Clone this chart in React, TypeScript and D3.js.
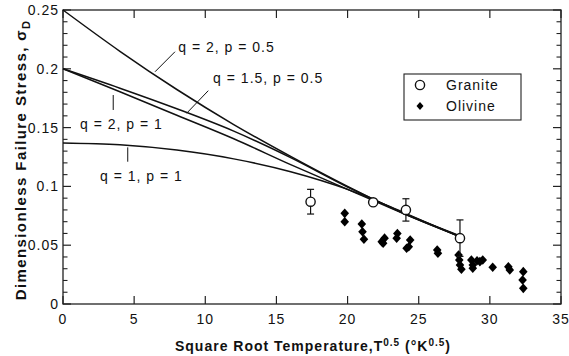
import React from 'react';
import * as d3 from 'd3';

// model curves
const curveX = [0, 4, 8, 12, 16, 20, 24, 28];
const q2p05 = [0.25, 0.2149, 0.1824, 0.1526, 0.1255, 0.1, 0.0767, 0.057];
const q15p05 = [0.2, 0.1835, 0.166, 0.147, 0.1245, 0.0995, 0.077, 0.0575];
const q2p1 = [0.2, 0.1805, 0.1605, 0.1405, 0.1185, 0.0975, 0.0765, 0.0568];
const q1p1 = [0.137, 0.1354, 0.1309, 0.1234, 0.1125, 0.0975, 0.0775, 0.0565];

// granite: open circles with error bars
const graniteX = [17.4, 21.8, 24.1, 27.9];
const graniteY = [0.087, 0.0865, 0.08, 0.056];
const graniteErr = [0.0105, 0, 0.0095, 0.0155];

// olivine: filled diamonds
const olivineX = [19.8, 19.8, 21.0, 21.05, 21.15, 22.4, 22.6, 22.5, 23.45, 23.5, 24.4, 24.3, 24.15, 26.3, 26.35,
  27.8, 27.85, 27.9, 28.0, 28.7, 28.8, 28.8, 29.1, 29.3, 29.5, 30.2, 31.3, 31.4, 32.35, 32.3, 32.35];
const olivineY = [0.0771, 0.07, 0.068, 0.0615, 0.055, 0.053, 0.056, 0.0516, 0.0559, 0.06, 0.0544, 0.0487, 0.0474, 0.0459, 0.0431,
  0.0417, 0.0374, 0.0332, 0.0295, 0.0374, 0.0332, 0.0304, 0.0368, 0.036, 0.0374, 0.0312, 0.0317, 0.029, 0.0275, 0.0204, 0.0133];

const xTicks = [0, 5, 10, 15, 20, 25, 30, 35];
const yTicks = [0, 0.05, 0.1, 0.15, 0.2, 0.25];
const yTickLabels = ['0', '0.05', '0.1', '0.15', '0.2', '0.25'];

const curveLabels = ['q = 2, p = 0.5', 'q = 1.5, p = 0.5', 'q = 2, p = 1', 'q = 1, p = 1'];
// [text x, text y, leader x1, y1, x2, y2] in data units
const labelPos = [
  [8.1, 0.2143, 7.87, 0.2145, 6.47, 0.1975],
  [10.55, 0.1876, 10.21, 0.1814, 8.69, 0.1622],
  [1.2, 0.1488, 3.53, 0.1777, 3.53, 0.165],
  [2.6, 0.1048, 4.55, 0.1332, 4.55, 0.121],
];

const W = 569;
const H = 356;
const font = "'Liberation Sans', Arial, Helvetica, sans-serif";

const diamond = (cx: number, cy: number, w: number, h: number) =>
  `M${cx},${cy - h}L${cx + w},${cy}L${cx},${cy + h}L${cx - w},${cy}Z`;

export default function App() {
  const x = d3.scaleLinear().domain([0, 35]).range([63, 561]);
  const y = d3.scaleLinear().domain([0, 0.25]).range([304, 10]);

  const line = d3.line<number>()
    .x((_, i) => x(curveX[i]))
    .y(d => y(d))
    .curve(d3.curveMonotoneX);

  const minorY = d3.range(0, 26).map(i => i / 100).filter(v => Math.round(v * 100) % 5 !== 0);
  const txt = { fontFamily: font, fontSize: 14, letterSpacing: 1, fill: '#111' } as const;

  return (
    <svg width={W} height={H} style={{ position: 'absolute', left: 0, top: 0, background: '#fff' }}>
      {/* frame */}
      <rect x={63} y={10} width={498} height={294} fill="none" stroke="#222" strokeWidth={1.3} />

      {/* x ticks, bottom and top */}
      {xTicks.map(t => (
        <g key={'xt' + t}>
          <line x1={x(t)} x2={x(t)} y1={304} y2={296} stroke="#222" strokeWidth={1.2} />
          <line x1={x(t)} x2={x(t)} y1={10} y2={18} stroke="#222" strokeWidth={1.2} />
          <text x={x(t)} y={324} textAnchor="middle" {...txt}>{t}</text>
        </g>
      ))}

      {/* y ticks, left and right */}
      {yTicks.map((t, i) => (
        <g key={'yt' + t}>
          <line x1={63} x2={71} y1={y(t)} y2={y(t)} stroke="#222" strokeWidth={1.2} />
          <line x1={561} x2={553} y1={y(t)} y2={y(t)} stroke="#222" strokeWidth={1.2} />
          <text x={59} y={y(t)} dy="0.36em" textAnchor="end" {...txt}>{yTickLabels[i]}</text>
        </g>
      ))}
      {minorY.map(t => (
        <g key={'ym' + t}>
          <line x1={63} x2={67.5} y1={y(t)} y2={y(t)} stroke="#222" strokeWidth={1.1} />
          <line x1={561} x2={556.5} y1={y(t)} y2={y(t)} stroke="#222" strokeWidth={1.1} />
        </g>
      ))}

      {/* model curves */}
      {[q2p05, q15p05, q2p1, q1p1].map((s, i) => (
        <path key={'c' + i} d={line(s) ?? ''} fill="none" stroke="#111" strokeWidth={1.5} />
      ))}

      {/* curve labels with leaders */}
      {curveLabels.map((l, i) => {
        const p = labelPos[i];
        return (
          <g key={'l' + i}>
            <line x1={x(p[2])} y1={y(p[3])} x2={x(p[4])} y2={y(p[5])} stroke="#111" strokeWidth={1} />
            <text x={x(p[0])} y={y(p[1])} {...txt}>{l}</text>
          </g>
        );
      })}

      {/* olivine */}
      {olivineX.map((v, i) => (
        <path key={'o' + i} d={diamond(x(v), y(olivineY[i]), 4.3, 4.8)} fill="#000" />
      ))}

      {/* granite */}
      {graniteX.map((v, i) => {
        const cx = x(v);
        const e = graniteErr[i];
        return (
          <g key={'g' + i}>
            {e > 0 && (
              <g stroke="#111" strokeWidth={1.2}>
                <line x1={cx} x2={cx} y1={y(graniteY[i] + e)} y2={y(graniteY[i] - e)} />
                <line x1={cx - 3.5} x2={cx + 3.5} y1={y(graniteY[i] + e)} y2={y(graniteY[i] + e)} />
                <line x1={cx - 3.5} x2={cx + 3.5} y1={y(graniteY[i] - e)} y2={y(graniteY[i] - e)} />
              </g>
            )}
            <circle cx={cx} cy={y(graniteY[i])} r={4.6} fill="#fff" stroke="#111" strokeWidth={1.4} />
          </g>
        );
      })}

      {/* legend */}
      <rect x={404} y={74} width={117} height={46} fill="#fff" stroke="#222" strokeWidth={1.1} />
      <circle cx={420} cy={85} r={4.6} fill="#fff" stroke="#111" strokeWidth={1.4} />
      <text x={446} y={90} {...txt}>Granite</text>
      <path d={diamond(420, 106, 3.5, 4)} fill="#000" />
      <text x={446} y={111} {...txt}>Olivine</text>

      {/* axis titles */}
      <text x={313} y={351} textAnchor="middle" {...txt} fontWeight="bold" letterSpacing={1}>
        Square Root Temperature,T<tspan dy={-5} fontSize={10}>0.5</tspan>
        <tspan dy={5}> (°K</tspan><tspan dy={-5} fontSize={10}>0.5</tspan><tspan dy={5}>)</tspan>
      </text>
      <text transform="translate(26,160) rotate(-90)" textAnchor="middle" {...txt} fontSize={15} fontWeight="bold" letterSpacing={1.4}>
        Dimensionless Failure Stress, σ<tspan dy={4} fontSize={11}>D</tspan>
      </text>
    </svg>
  );
}
